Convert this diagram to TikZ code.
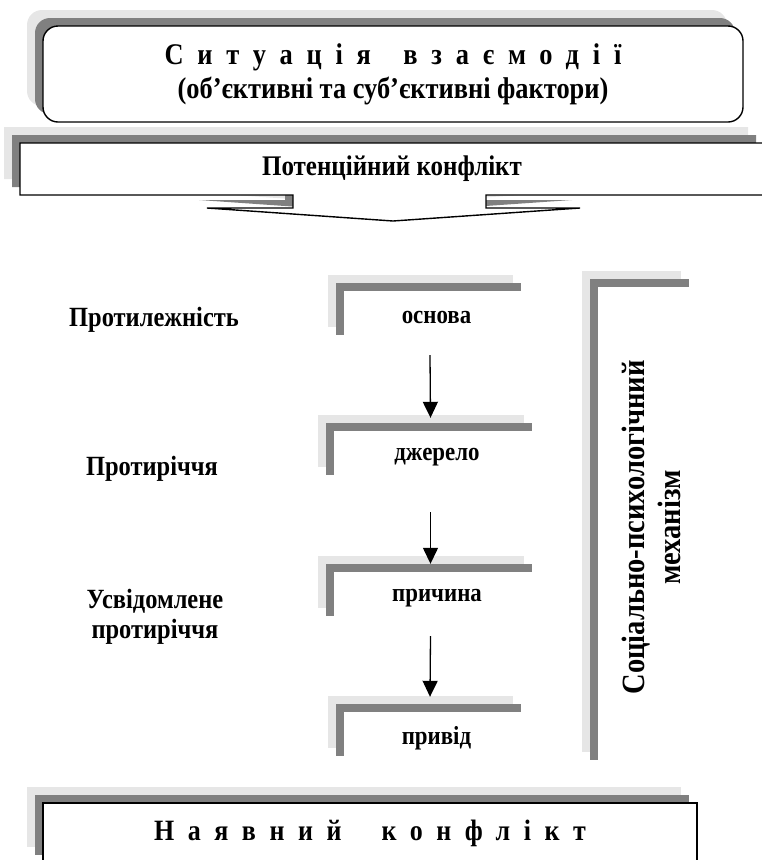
\documentclass[tikz,border=0pt]{standalone}
\usepackage{fontspec}
\setmainfont{Liberation Serif}[FakeStretch=0.88]
\usetikzlibrary{shadows,arrows.meta}

\definecolor{shadelight}{HTML}{E6E6E6}
\definecolor{shadedark}{HTML}{808080}

\newcommand{\sidefont}{\fontsize{27.8}{30}\selectfont\bfseries}
\newcommand{\stepfont}{\fontsize{26}{28}\selectfont\bfseries}

\tikzset{
  twoshade/.style={
    general shadow={fill=shadelight, shadow xshift=-16pt, shadow yshift=16pt},
    general shadow={fill=shadedark, shadow xshift=-8pt, shadow yshift=8pt}},
  framebox/.style={twoshade, draw, fill=white, line width=1.4pt, inner sep=0pt},
  stepbox/.style={twoshade, fill=white, minimum height=52pt, inner sep=0pt, font=\stepfont},
  sidelabel/.style={font=\sidefont, align=center},
  flow/.style={line width=1.3pt, -{Triangle[length=16pt,width=15pt]}}
}

\begin{document}
\begin{tikzpicture}[x=1pt,y=-1pt]
  \useasboundingbox (0,0) rectangle (761,860);

  % top
  \node[framebox, rounded corners=15pt, minimum width=700pt, minimum height=96pt,
        font=\fontsize{30}{34}\selectfont\bfseries, align=center] (situation) at (393,74)
    {{\addfontfeature{LetterSpace=46}Ситуація\hspace{12pt} взаємодії}\\(об’єктивні та суб’єктивні фактори)};

  \draw[twoshade, fill=white, line width=1.4pt]
    (20,143) -- (764,143) -- (764,195) -- (486,195) -- (486,208) -- (580,208)
    -- (393,221) -- (207,208) -- (293,208) -- (293,195) -- (20,195) -- cycle;
  \node[font=\fontsize{28.4}{28}\selectfont\bfseries] (potential) at (392,169) {Потенційний конфлікт};

  % steps
  \node[stepbox, minimum width=185pt] (osnova) at (436.5,317) {основа};
  \node[stepbox, minimum width=206pt] (dzherelo) at (437,457) {джерело};
  \node[stepbox, minimum width=206pt] (prychyna) at (437,598) {причина};
  \node[stepbox, minimum width=185pt] (pryvid) at (436.5,738) {привід};

  \draw[flow] ([xshift=-6.5pt,yshift=-12pt]osnova.south) -- ([xshift=-6.5pt,yshift=13pt]dzherelo.north);
  \draw[flow] ([xshift=-6.5pt,yshift=-29pt]dzherelo.south) -- ([xshift=-6.5pt,yshift=8pt]prychyna.north);
  \draw[flow] ([xshift=-6.5pt,yshift=-12pt]prychyna.south) -- ([xshift=-6.5pt,yshift=15pt]pryvid.north);

  \node[sidelabel] (protylezhnist) at (154,320) {Протилежність};
  \node[sidelabel] (protyrichchia) at (152,469) {Протиріччя};
  \node[sidelabel] (usvidomlene) at (155,617) {Усвідомлене\\протиріччя};

  % mechanism
  \node[twoshade, fill=white, minimum width=99pt, minimum height=481pt] (mech) at (647.5,527.5) {};
  \node[rotate=90, align=center, font=\fontsize{32.4}{36}\selectfont\bfseries] (mechlabel)
    at ([xshift=3.5pt]mech.center) {Соціально-психологічний\\механізм};

  % bottom
  \node[framebox, minimum width=654pt, minimum height=60pt,
        font=\fontsize{29.5}{28}\selectfont\bfseries] (actual) at (370,833)
    {\addfontfeature{LetterSpace=46}Наявний\hspace{20pt} конфлікт};
\end{tikzpicture}
\end{document}
